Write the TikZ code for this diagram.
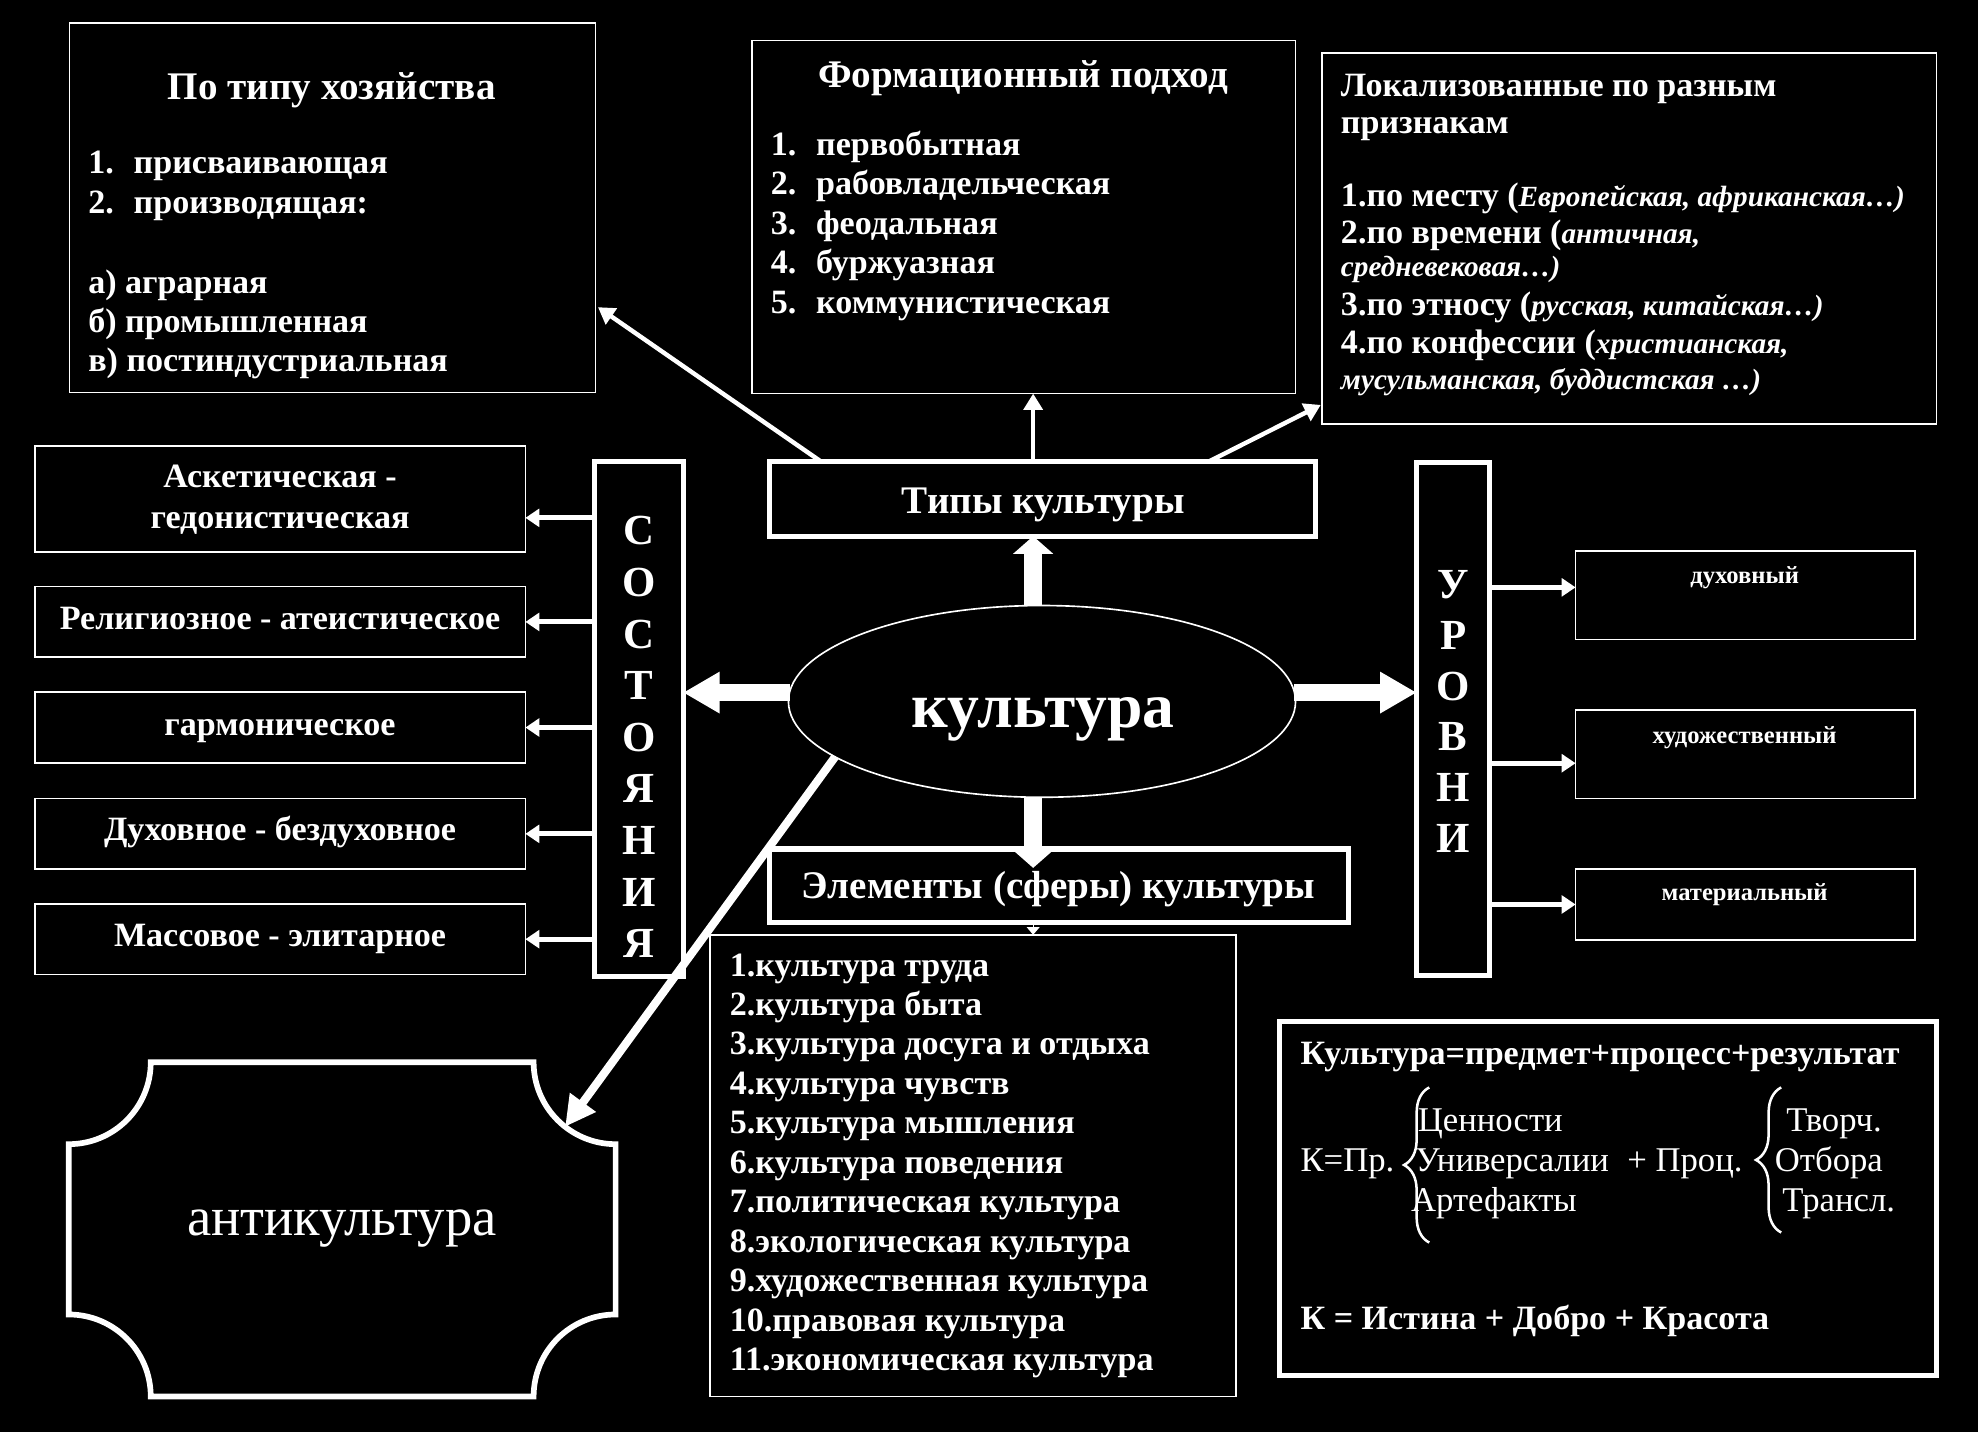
\documentclass[tikz,border=0pt]{standalone}
\usepackage{fontspec}
\setmainfont{Liberation Serif}
\usetikzlibrary{arrows.meta,shapes.geometric,calc,decorations.pathreplacing}
\newcommand\fsz[2]{\fontsize{#1pt}{#2pt}\selectfont}
\begin{document}
\begin{tikzpicture}[x=1pt,y=-1pt,
  every node/.style={text=white, inner sep=0pt, outer sep=0pt},
  thinbox/.style={draw=white, line width=1.3pt, fill=black, anchor=north west},
  thickbox/.style={draw=white, line width=4pt, fill=black, anchor=north west},
  head/.style={font=\bfseries\fsz{31}{37}},
  body/.style={font=\bfseries\fsz{27}{32}},
  ital/.style={font=\bfseries\itshape\fsz{23.2}{28}},
  letter/.style={font=\bfseries\fsz{34}{40}, anchor=base},
  small/.style={font=\bfseries\fsz{19.5}{24}, anchor=base},
  reg/.style={font=\fsz{27.5}{32}, anchor=base west},
  bigh/.style={draw=white, line width=13pt, -{Triangle[length=29pt,width=31pt]}},
  bigv/.style={draw=white, line width=14pt, -{Triangle[length=14pt,width=31pt]}},
  midarrow/.style={draw=white, line width=4pt, -{Triangle[length=11pt,width=14pt]}},
  toparrow/.style={draw=white, line width=3.5pt, -{Triangle[length=13pt,width=15pt]}},
  diagarrow/.style={draw=white, line width=6.5pt, -{Triangle[length=24pt,width=24pt]}},
  tinyarrow/.style={draw=white, line width=1pt, -{Triangle[length=6pt,width=10pt]}},
  bracestyle/.style={draw=white, line width=2pt, decorate}
]
\useasboundingbox (0,0) rectangle (1568,1135);
\fill[black] (0,0) rectangle (1568,1135);

% ---------- top boxes ----------
\node[thinbox, minimum width=417, minimum height=293] (A) at (55,18) {};
\node[head, anchor=base] (At) at (263,78.7) {По типу хозяйства};
\node[body, anchor=base west] (A1) at (70,137.4) {\makebox[36pt][l]{1.}присваивающая};
\node[body, anchor=base west] (A2) at (70,169) {\makebox[36pt][l]{2.}производящая:};
\node[body, anchor=base west] (A3) at (70,232.6) {а) аграрная};
\node[body, anchor=base west] (A4) at (70,263.5) {б) промышленная};
\node[body, anchor=base west] (A5) at (70,294.5) {в) постиндустриальная};

\node[thinbox, minimum width=431, minimum height=280] (B) at (596,32) {};
\node[head, anchor=base] (Bt) at (811,69.3) {Формационный подход};
\foreach \t [count=\i] in {первобытная, рабовладельческая, феодальная, буржуазная, коммунистическая}
  \node[body, anchor=base west] (B\i) at (611,{123+31.3*(\i-1)}) {\makebox[36pt][l]{\i.}\t};

\node[thinbox, minimum width=487, minimum height=294] (C) at (1048,42) {};
\node[body, anchor=base west] (C1) at (1063,76.6) {Локализованные по разным};
\node[body, anchor=base west] (C2) at (1063,106) {признакам};
\node[body, anchor=base west] (C3) at (1063,164) {1.по месту (\textit{\fsz{23.2}{28}Европейская, африканская…)}};
\node[body, anchor=base west] (C4) at (1063,193) {2.по времени (\textit{\fsz{23.2}{28}античная,}};
\node[ital, anchor=base west] (C5) at (1063,219) {средневековая…)};
\node[body, anchor=base west] (C6) at (1063,250) {3.по этносу (\textit{\fsz{23.2}{28}русская, китайская…)}};
\node[body, anchor=base west] (C7) at (1063,280) {4.по конфессии (\textit{\fsz{23.2}{28}христианская,}};
\node[ital, anchor=base west] (C8) at (1063,309) {мусульманская, буддистская …)};

% ---------- centre ----------
\node[thickbox, minimum width=433, minimum height=59] (tipy) at (610,366) {};
\node[head, anchor=base] (tipyt) at (827,406.8) {Типы культуры};

\node[ellipse, draw=white, line width=1.3pt, fill=black, minimum width=402, minimum height=152] (ell) at (826,556) {};
\node[font=\bfseries\fsz{50.5}{58}, anchor=base] (ellt) at (826.8,576.7) {культура};

\node[thickbox, minimum width=459, minimum height=58] (elem) at (610,673) {};
\node[head, anchor=base] (elemt) at (839,712) {Элементы (сферы) культуры};

\node[thinbox, minimum width=417, minimum height=366] (lst) at (563,741) {};
\foreach \t [count=\i from 0] in {1.культура труда, 2.культура быта, 3.культура досуга и отдыха, 4.культура чувств, 5.культура мышления, 6.культура поведения, 7.политическая культура, 8.экологическая культура, 9.художественная культура, 10.правовая культура, 11.экономическая культура}
  \node[body, anchor=base west] (E\i) at (578.6,{773.7+31.3*\i}) {\t};

% ---------- left: состояния ----------
\node[thickbox, minimum width=70, minimum height=408] (sost) at (471.5,366) {};
\foreach \l [count=\i from 0] in {С,О,С,Т,О,Я,Н,И,Я}
  \node[letter] (s\i) at (506.75,{432+40.9*\i}) {\l};

\node[thinbox, minimum width=389, minimum height=84] (L1) at (27.5,353.5) {};
\node[body, anchor=base] (L1a) at (222,386.4) {Аскетическая -};
\node[body, anchor=base] (L1b) at (222,418.6) {гедонистическая};
\node[thinbox, minimum width=389, minimum height=56] (L2) at (27.5,465) {};
\node[body, anchor=base] (L2t) at (222,499.4) {Религиозное - атеистическое};
\node[thinbox, minimum width=389, minimum height=56] (L3) at (27.5,548.7) {};
\node[body, anchor=base] (L3t) at (222,583) {гармоническое};
\node[thinbox, minimum width=389, minimum height=56] (L4) at (27.5,633) {};
\node[body, anchor=base] (L4t) at (222,666) {Духовное - бездуховное};
\node[thinbox, minimum width=389, minimum height=56] (L5) at (27.5,716.5) {};
\node[body, anchor=base] (L5t) at (222,750) {Массовое - элитарное};

% ---------- right: уровни ----------
\node[thickbox, minimum width=58, minimum height=406] (urov) at (1123,367) {};
\foreach \l [count=\i from 0] in {У,Р,О,В,Н,И}
  \node[letter] (u\i) at (1152,{474.5+40.2*\i}) {\l};

\node[thinbox, minimum width=269, minimum height=70] (R1) at (1249,437) {};
\node[small] (R1t) at (1383,462.7) {духовный};
\node[thinbox, minimum width=269, minimum height=70] (R2) at (1249,563) {};
\node[small] (R2t) at (1383,589) {художественный};
\node[thinbox, minimum width=269, minimum height=56] (R3) at (1249,689) {};
\node[small] (R3t) at (1383,714) {материальный};

% ---------- formula box ----------
\node[thickbox, minimum width=521, minimum height=280] (F) at (1014,810) {};
\node[body, anchor=base west] (F1) at (1031,844) {Культура=предмет+процесс+результат};
\node[reg] (F2) at (1031,929) {К=Пр.};
\node[reg] (F3) at (1124,897) {Ценности};
\node[reg] (F4) at (1122,929) {Универсалии};
\node[reg] (F5) at (1118.6,960.5) {Артефакты};
\node[reg] (F6) at (1290,929) {+ Проц.};
\node[reg] (F7) at (1416,897) {Творч.};
\node[reg] (F8) at (1407,929) {Отбора};
\node[reg] (F9) at (1413,960.5) {Трансл.};
\node[body, anchor=base west] (F10) at (1031,1054) {К = Истина + Добро + Красота};
\draw[bracestyle, decoration={brace, amplitude=20pt}] (1133,985) -- (1133,862);
\draw[bracestyle, decoration={brace, amplitude=20pt}] (1412,977) -- (1412,862);

% ---------- антикультура ----------
\node[minimum width=433.5, minimum height=265] (anti) at (271.25,974.5) {};
\draw[white, line width=4.5pt]
  ($(anti.north west)+(65pt,0pt)$) -- ($(anti.north east)+(-65pt,0pt)$)
  arc[start angle=180, end angle=270, radius=65pt]
  -- ($(anti.south east)+(0pt,65pt)$)
  arc[start angle=90, end angle=180, radius=65pt]
  -- ($(anti.south west)+(65pt,0pt)$)
  arc[start angle=0, end angle=90, radius=65pt]
  -- ($(anti.north west)+(0pt,-65pt)$)
  arc[start angle=270, end angle=360, radius=65pt] -- cycle;
\node[font=\fsz{43.3}{50}, anchor=base] (antit) at (271,979) {антикультура};

% ---------- connectors ----------
\draw[bigv] ($(ell.north)+(-7,0)$) -- ($(ell.north |- tipy.south)+(-7,0)$);
\draw[bigv] ($(ell.south)+(-7,0)$) -- ($(ell.south |- elem.north)+(-7,15)$);
\draw[bigh] (ell.178) -- (sost.east |- ell.178);
\draw[bigh] (ell.2) -- (urov.west |- ell.2);

\draw[toparrow] ($(tipy.north west)+(41,0)$) -- ($(A.east)+(2,79)$);
\draw[toparrow] ($(ell.north |- tipy.north)+(-7,0)$) -- ($(ell.north |- B.south)+(-7,0)$);
\draw[toparrow] ($(tipy.north west)+(348,0)$) -- ($(C.south west)+(-1,-15)$);

\coordinate (e1) at ($(ell.south |- elem.south)+(-7,0)$);
\draw[tinyarrow] (e1) -- (e1 |- lst.north);

\draw[midarrow] ($(sost.west |- L1.east)+(0,15)$) -- ($(L1.east)+(0,15)$);
\draw[midarrow] (sost.west |- L2.east) -- (L2.east);
\draw[midarrow] (sost.west |- L3.east) -- (L3.east);
\draw[midarrow] (sost.west |- L4.east) -- (L4.east);
\draw[midarrow] (sost.west |- L5.east) -- (L5.east);

\draw[midarrow] ($(urov.east |- R1.west)+(0,-6.4)$) -- ($(R1.west)+(0,-6.4)$);
\draw[midarrow] ($(urov.east |- R2.west)+(0,7)$) -- ($(R2.west)+(0,7)$);
\draw[midarrow] (urov.east |- R3.west) -- (R3.west);

\draw[diagarrow] (ell.195) -- ($(anti.north east)+(232:65pt)$);
\end{tikzpicture}
\end{document}
